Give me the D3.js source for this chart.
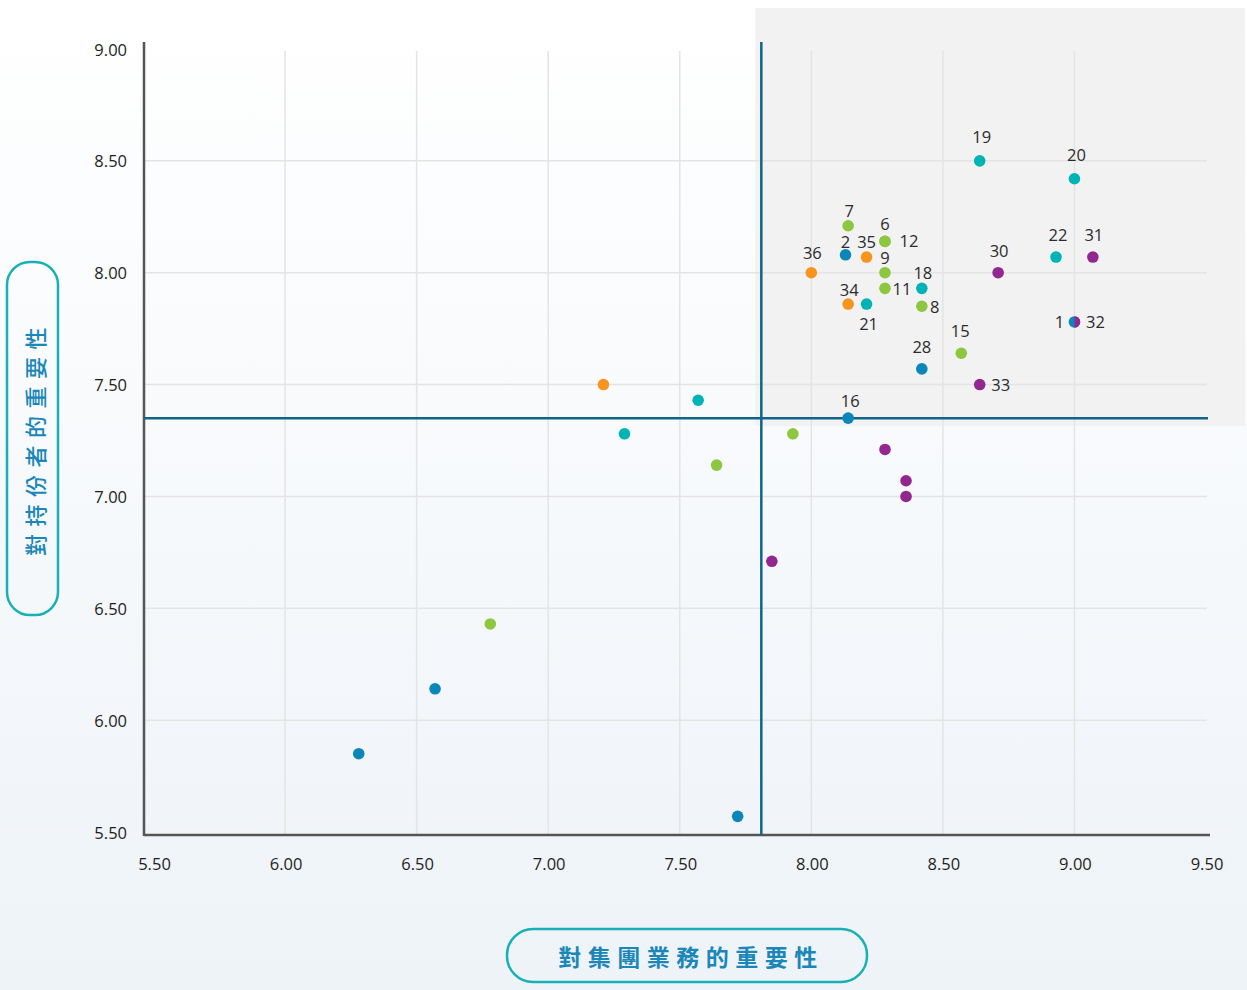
<!DOCTYPE html>
<html>
<head>
<meta charset="utf-8">
<script src="https://cdn.jsdelivr.net/npm/d3@7"></script>
<style>
  body { margin: 0; background: #fff; }
  svg { display: block; font-family: "Open Sans", "Noto Sans", sans-serif; }
</style>
</head>
<body>
<div class="chart"></div>
<script>
// Point ids ("" = no label shown), values and groups
const pointIds = ["19", "20", "7", "6", "12", "2", "35", "36", "9", "18", "11", "34", "21", "8",
                  "30", "22", "31", "1", "32", "15", "28", "33", "16",
                  "", "", "", "", "", "", "", "", "", "", "", "", ""];
const xValues = [8.64, 9.00, 8.14, 8.28, 8.28, 8.13, 8.21, 8.00, 8.28, 8.42, 8.28, 8.14, 8.21, 8.42,
                 8.71, 8.93, 9.07, 9.00, 9.00, 8.57, 8.42, 8.64, 8.14,
                 7.21, 7.57, 7.29, 7.93, 7.64, 8.28, 8.36, 8.36, 7.85, 6.78, 6.57, 6.28, 7.72];
const yValues = [8.50, 8.42, 8.21, 8.14, 8.14, 8.08, 8.07, 8.00, 8.00, 7.93, 7.93, 7.86, 7.86, 7.85,
                 8.00, 8.07, 8.07, 7.78, 7.78, 7.64, 7.57, 7.50, 7.35,
                 7.50, 7.43, 7.28, 7.28, 7.14, 7.21, 7.07, 7.00, 6.71, 6.43, 6.14, 5.85, 5.57];
const groups = ["teal", "teal", "green", "green", "green", "blue", "orange", "orange", "green", "teal", "green", "orange", "teal", "green",
                "purple", "teal", "purple", "blue", "purple", "green", "blue", "purple", "blue",
                "orange", "teal", "teal", "green", "green", "purple", "purple", "purple", "purple", "green", "blue", "blue", "blue"];

const xTicks = [5.5, 6.0, 6.5, 7.0, 7.5, 8.0, 8.5, 9.0, 9.5];
const yTicks = [5.5, 6.0, 6.5, 7.0, 7.5, 8.0, 8.5, 9.0];
const xThreshold = 7.81;
const yThreshold = 7.35;
const xTitle = "對集團業務的重要性";
const yTitle = "對持份者的重要性";

const groupColor = d3.scaleOrdinal()
    .domain(["blue", "teal", "green", "orange", "purple"])
    .range(["#0b86b9", "#00b3b5", "#8dc63f", "#f7941d", "#92278f"]);

// label offsets from point centre (layout only)
const labelPos = {
    "19": [2, -24], "20": [2, -24], "7": [1, -15], "6": [0, -18], "12": [24, -1],
    "2": [0, -13], "35": [0, -16], "36": [1, -20], "9": [0, -15], "18": [1, -16],
    "11": [17, 0], "34": [1, -15], "21": [2, 19], "8": [13, 0], "30": [1, -22],
    "22": [2, -23], "31": [1, -23], "1": [-15, 0], "32": [21, 0], "15": [-1, -23],
    "28": [0, -22], "33": [21, 0], "16": [2, -18]
};

const width = 1247, height = 990;
const svg = d3.select(".chart").append("svg")
    .attr("width", width)
    .attr("height", height);

// background gradient
const defs = svg.append("defs");
const grad = defs.append("linearGradient").attr("id", "bg")
    .attr("x1", 0).attr("y1", 0).attr("x2", 0).attr("y2", 1);
grad.append("stop").attr("offset", "0%").attr("stop-color", "#ffffff");
grad.append("stop").attr("offset", "100%").attr("stop-color", "#eef3f8");
svg.append("rect").attr("width", width).attr("height", height).attr("fill", "url(#bg)");

const xScale = d3.scaleLinear().domain([5.5, 9.5]).range([153.5, 1206]);
const yScale = d3.scaleLinear().domain([5.5, 9.0]).range([832, 49]);
const axisX = 144, axisY = 835;

// shaded quadrant
svg.append("rect")
    .attr("x", xScale(xThreshold) - 6)
    .attr("y", 8)
    .attr("width", 1245 - (xScale(xThreshold) - 6))
    .attr("height", yScale(yThreshold))
    .attr("fill", "#f2f2f2");

// gridlines
svg.append("g").selectAll("line")
    .data(xTicks.filter(d => d > 5.5 && d < 9.5))
    .enter().append("line")
    .attr("x1", d => xScale(d)).attr("x2", d => xScale(d))
    .attr("y1", 51).attr("y2", axisY)
    .attr("stroke", "#e4e4e4").attr("stroke-width", 1.5);
svg.append("g").selectAll("line")
    .data(yTicks.filter(d => d > 5.5 && d < 9.0))
    .enter().append("line")
    .attr("x1", axisX).attr("x2", 1207)
    .attr("y1", d => yScale(d)).attr("y2", d => yScale(d))
    .attr("stroke", "#e4e4e4").attr("stroke-width", 1.5);

// axes lines
svg.append("line").attr("x1", axisX).attr("x2", axisX).attr("y1", 42).attr("y2", axisY + 1)
    .attr("stroke", "#555").attr("stroke-width", 2.5);
svg.append("line").attr("x1", axisX).attr("x2", 1210).attr("y1", axisY).attr("y2", axisY)
    .attr("stroke", "#555").attr("stroke-width", 2.5);

// tick labels
svg.append("g").selectAll("text")
    .data(xTicks).enter().append("text")
    .attr("x", d => xScale(d) + 1)
    .attr("y", 863)
    .attr("text-anchor", "middle")
    .attr("dominant-baseline", "central")
    .attr("font-size", 16.5)
    .attr("fill", "#1e1e1e")
    .text(d => d3.format(".2f")(d));
svg.append("g").selectAll("text")
    .data(yTicks).enter().append("text")
    .attr("x", 127)
    .attr("y", d => yScale(d))
    .attr("text-anchor", "end")
    .attr("dominant-baseline", "central")
    .attr("font-size", 16.5)
    .attr("fill", "#1e1e1e")
    .text(d => d3.format(".2f")(d));

// quadrant lines
svg.append("line")
    .attr("x1", xScale(xThreshold)).attr("x2", xScale(xThreshold))
    .attr("y1", 42).attr("y2", axisY)
    .attr("stroke", "#0e6589").attr("stroke-width", 2.5);
svg.append("line")
    .attr("x1", axisX).attr("x2", 1208)
    .attr("y1", yScale(yThreshold)).attr("y2", yScale(yThreshold))
    .attr("stroke", "#0e6589").attr("stroke-width", 2.5);

// points
const points = pointIds.map((id, i) => ({id: id, x: xValues[i], y: yValues[i], group: groups[i]}));
const r = 5.8;

// right-half clip for overlapping point 32
defs.append("clipPath").attr("id", "rightHalf")
    .append("rect")
    .attr("x", xScale(9.00)).attr("y", yScale(7.78) - 10)
    .attr("width", 10).attr("height", 20);

svg.append("g").selectAll("circle")
    .data(points).enter().append("circle")
    .attr("cx", d => xScale(d.x))
    .attr("cy", d => yScale(d.y))
    .attr("r", r)
    .attr("fill", d => d.id === "6" ? "#b2d66a" : groupColor(d.group))
    .attr("clip-path", d => d.id === "32" ? "url(#rightHalf)" : null);

// point labels
svg.append("g").selectAll("text")
    .data(points.filter(d => d.id !== ""))
    .enter().append("text")
    .attr("x", d => xScale(d.x) + labelPos[d.id][0])
    .attr("y", d => yScale(d.y) + labelPos[d.id][1])
    .attr("text-anchor", "middle")
    .attr("dominant-baseline", "central")
    .attr("font-size", 16.5)
    .attr("fill", "#2b2b2b")
    .text(d => d.id);

// axis titles
svg.append("rect")
    .attr("x", 7).attr("y", 262).attr("width", 51).attr("height", 353)
    .attr("rx", 23).attr("ry", 23)
    .attr("fill", "none").attr("stroke", "#17b1b5").attr("stroke-width", 2.5);
svg.append("text")
    .attr("transform", "translate(34,438) rotate(-90)")
    .attr("text-anchor", "middle")
    .attr("dominant-baseline", "central")
    .attr("font-family", "'Noto Sans CJK TC', sans-serif")
    .attr("font-size", 22)
    .attr("font-weight", 500)
    .attr("letter-spacing", 7.5)
    .attr("fill", "#1a87b8")
    .text(yTitle);

svg.append("rect")
    .attr("x", 507).attr("y", 929).attr("width", 360).attr("height", 53)
    .attr("rx", 26).attr("ry", 26)
    .attr("fill", "none").attr("stroke", "#17b1b5").attr("stroke-width", 2.5);
svg.append("text")
    .attr("x", 691).attr("y", 956)
    .attr("text-anchor", "middle")
    .attr("dominant-baseline", "central")
    .attr("font-family", "'Noto Sans CJK TC', sans-serif")
    .attr("font-size", 23)
    .attr("font-weight", 600)
    .attr("letter-spacing", 6.5)
    .attr("fill", "#1a87b8")
    .text(xTitle);
</script>
</body>
</html>
